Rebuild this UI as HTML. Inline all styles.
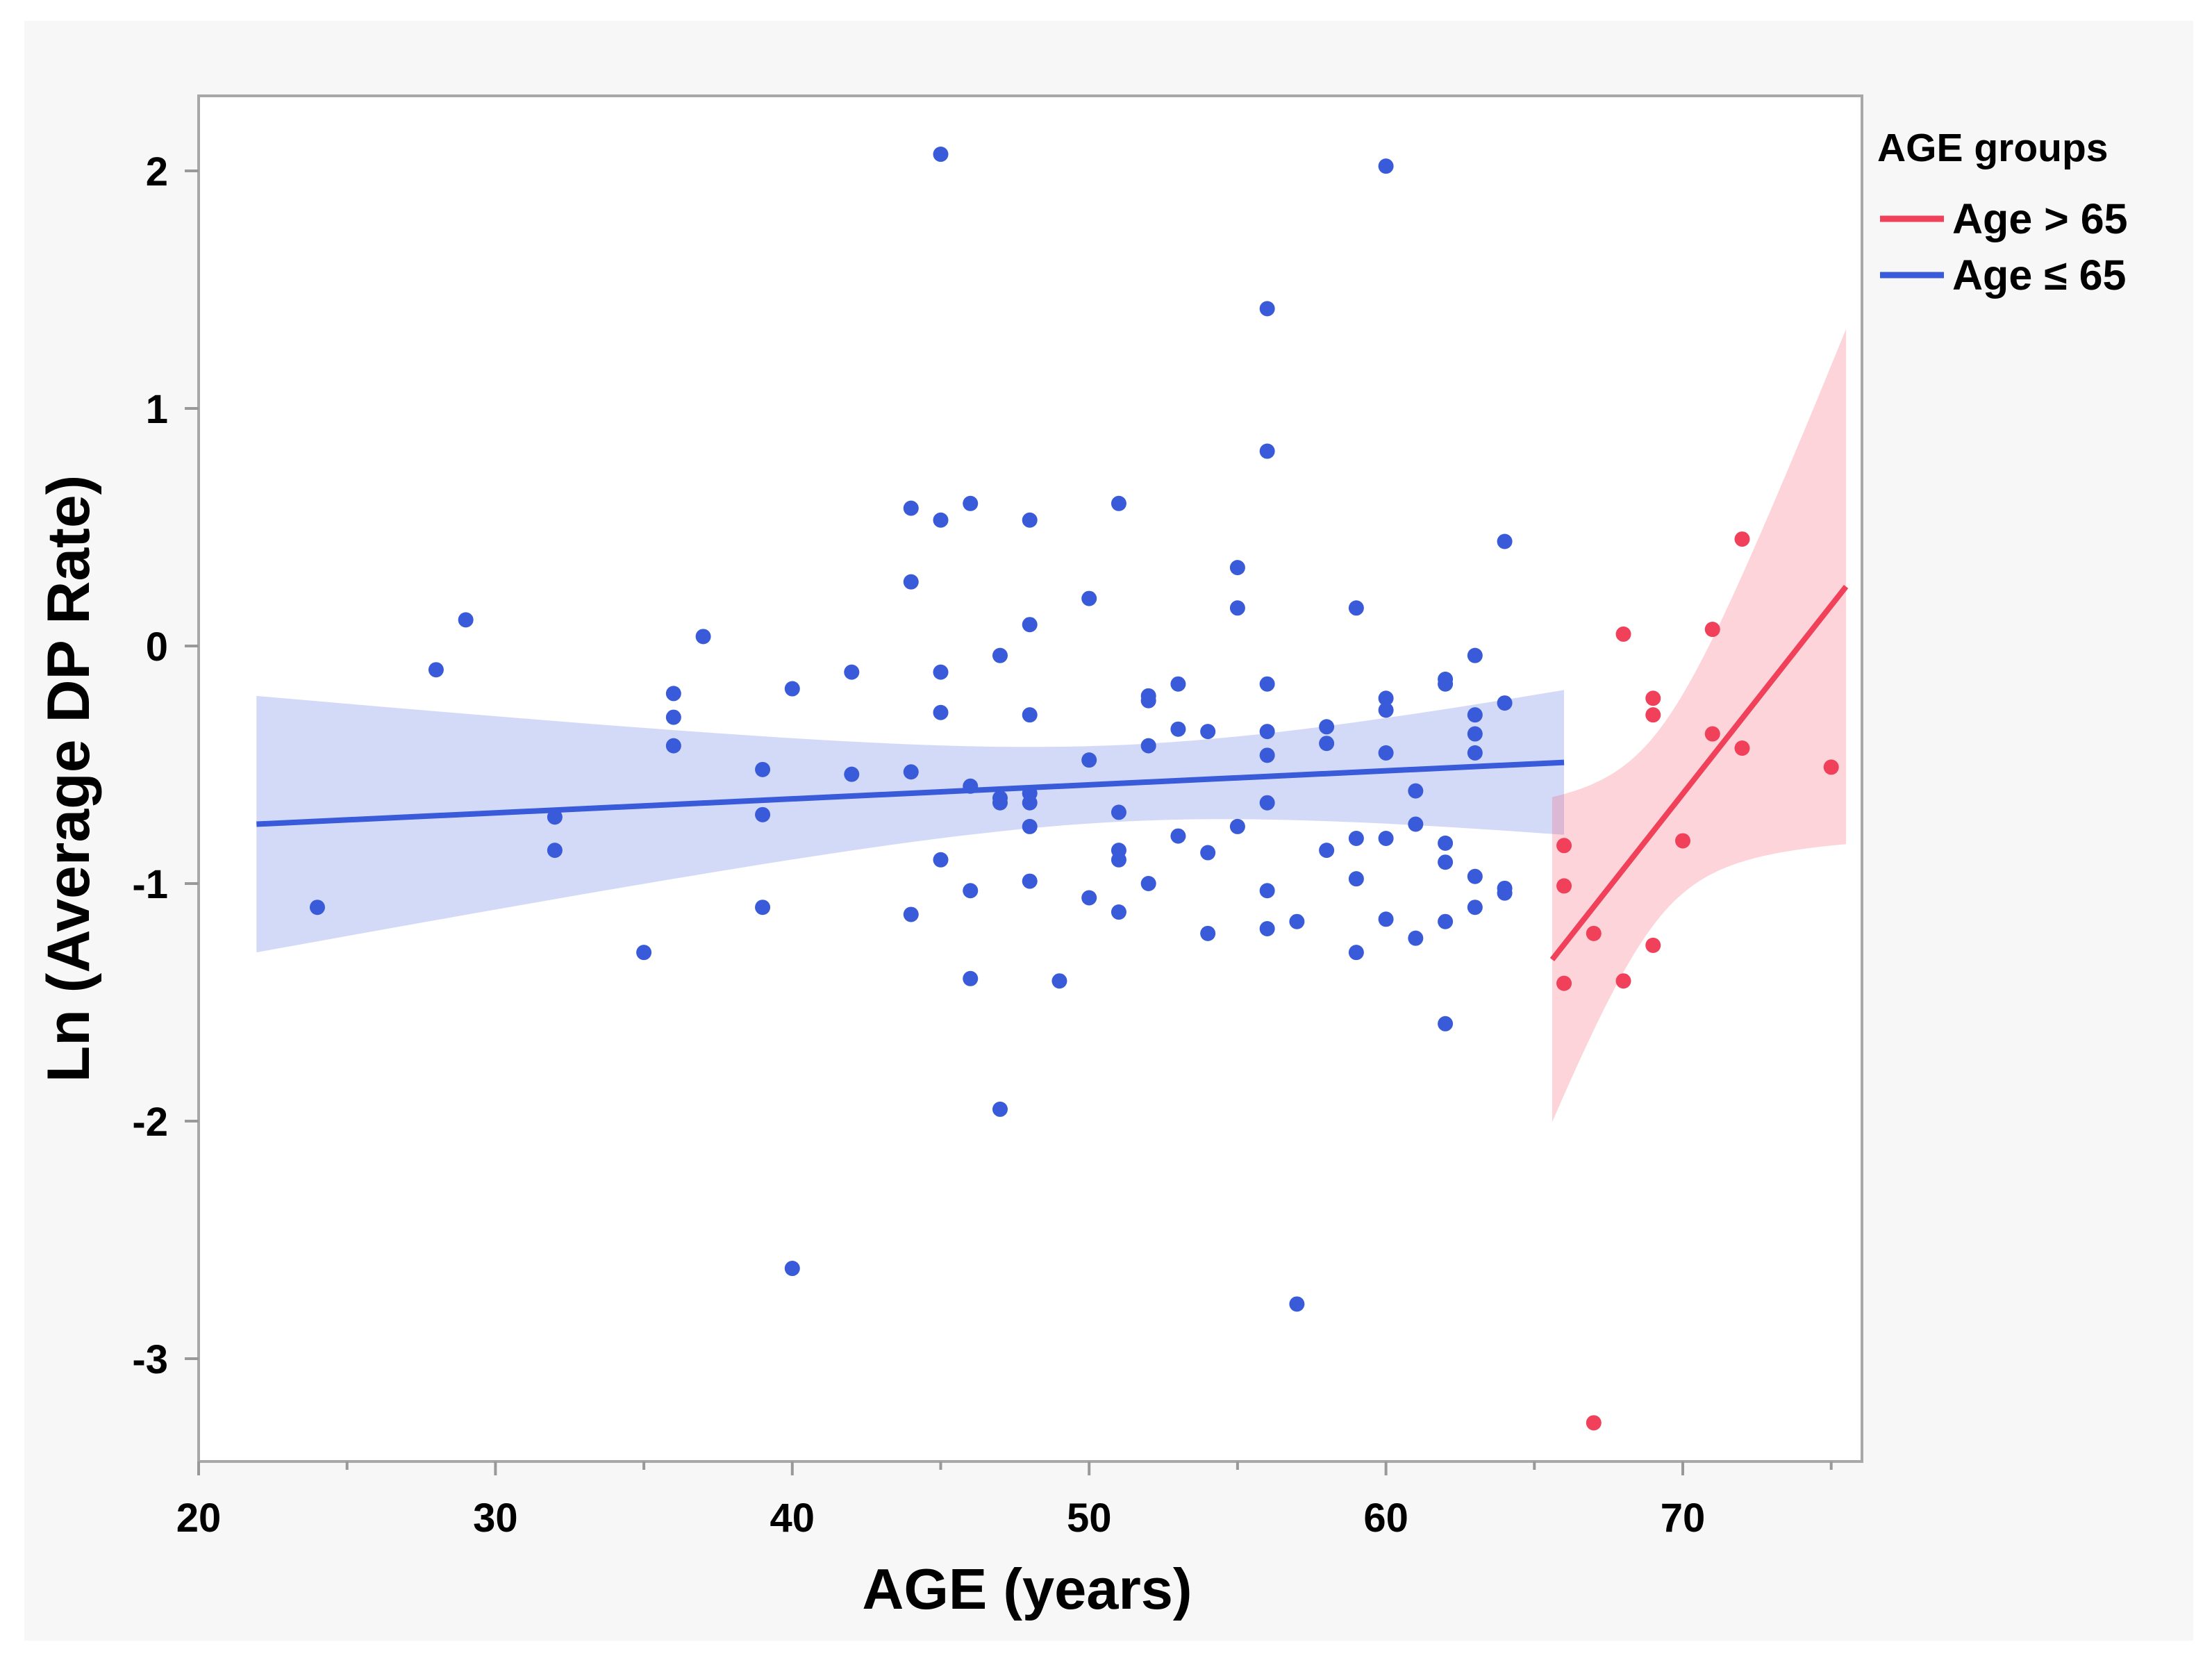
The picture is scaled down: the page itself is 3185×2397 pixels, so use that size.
<!DOCTYPE html>
<html><head><meta charset="utf-8">
<style>
html,body{margin:0;padding:0;background:#fff;}
svg{display:block;}
text{font-family:"Liberation Sans",sans-serif;font-weight:bold;fill:#000;}
</style></head>
<body>
<svg id="chart" width="3185" height="2397" viewBox="0 0 3185 2397" xmlns="http://www.w3.org/2000/svg">
<rect x="35" y="30" width="3123" height="2332" fill="#f7f7f7"/>
<rect x="286" y="138" width="2395" height="1966" fill="#ffffff" stroke="#a8a8a8" stroke-width="4"/>
<g id="bands"></g>
<g id="lines"></g>
<g id="points"></g>
<g id="axes"></g>
<text x="1479" y="2316" font-size="83" text-anchor="middle">AGE (years)</text>
<text transform="translate(128,1121) rotate(-90)" font-size="86" text-anchor="middle">Ln (Average DP Rate)</text>
<g>
<text x="2703" y="232" font-size="57">AGE groups</text>
<g>
<line x1="2707" y1="315" x2="2799" y2="315" stroke="#f0405a" stroke-width="9"/>
<text x="2811" y="336" font-size="61">Age &gt; 65</text>
</g>
<g>
<line x1="2707" y1="396" x2="2799" y2="396" stroke="#3a5bd9" stroke-width="9"/>
<text x="2811" y="417" font-size="61">Age ≤ 65</text>
</g>
</g>
</svg>
<script>
const blueAges=[24,28,29,32,32,35,36,36,36,37,39,39,39,40,40,42,42,44,44,44,44,45,45,45,45,45,46,46,46,46,47,47,47,47,48,48,48,48,48,48,48,49,50,50,50,51,51,51,51,51,52,52,52,52,53,53,53,54,54,54,55,55,55,56,56,56,56,56,56,56,56,57,57,58,58,58,59,59,59,59,60,60,60,60,60,60,61,61,61,62,62,62,62,62,62,63,63,63,63,63,63,64,64,64,64];
const blueVals=[-1.10,-0.10,0.11,-0.72,-0.86,-1.29,-0.20,-0.30,-0.42,0.04,-0.52,-0.71,-1.10,-0.18,-2.62,-0.11,-0.54,0.58,0.27,-0.53,-1.13,2.07,0.53,-0.11,-0.28,-0.90,0.60,-0.59,-1.03,-1.40,-0.04,-0.64,-0.66,-1.95,0.53,0.09,-0.29,-0.62,-0.66,-0.76,-0.99,-1.41,0.20,-0.48,-1.06,0.60,-0.70,-0.86,-0.90,-1.12,-0.21,-0.23,-0.42,-1.00,-0.16,-0.35,-0.80,-0.36,-0.87,-1.21,0.33,0.16,-0.76,1.42,0.82,-0.16,-0.36,-0.46,-0.66,-1.03,-1.19,-2.77,-1.16,-0.34,-0.41,-0.86,0.16,-0.81,-0.98,-1.29,2.02,-0.22,-0.27,-0.45,-0.81,-1.15,-0.61,-0.75,-1.23,-0.14,-0.16,-0.83,-0.91,-1.16,-1.59,-0.04,-0.29,-0.37,-0.45,-0.97,-1.10,0.44,-0.24,-1.02,-1.04];
const redAges=[66,66,66,67,67,68,68,69,69,69,70,71,71,72,72,75];
const redVals=[-0.84,-1.01,-1.42,-1.21,-3.27,0.05,-1.41,-0.22,-0.29,-1.26,-0.82,0.07,-0.37,0.45,-0.43,-0.51];
const xTicks=[20,30,40,50,60,70];
const xMinorTicks=[25,35,45,55,65,75];
const yTicks=[2,1,0,-1,-2,-3];
const blueRange=[21.95,66];
const redRange=[65.6,75.5];
const blueFit=[-0.75,-0.49];
const redFit=[-1.32,0.25];

const NS="http://www.w3.org/2000/svg";
const X0=286,XS=42.74, Y0=930, YS=342;
function sx(v){return X0+(v-20)*XS;}
function sy(v){return Y0-v*YS;}
function mk(tag,attrs,parent){const e=document.createElementNS(NS,tag);for(const k in attrs)e.setAttribute(k,attrs[k]);parent.appendChild(e);return e;}

const axes=document.getElementById('axes');
xTicks.forEach(t=>{
  const l=mk('line',{x1:sx(t),x2:sx(t),y1:2104,y2:2124,stroke:'#999','stroke-width':4},axes);
  
  
  const tx=mk('text',{x:sx(t),y:2205,'font-size':58,'text-anchor':'middle'},axes);
  tx.textContent=t;
  
  
});
xMinorTicks.forEach(t=>{
  const l=mk('line',{x1:sx(t),x2:sx(t),y1:2104,y2:2116,stroke:'#999','stroke-width':4},axes);
  
  
});
yTicks.forEach(t=>{
  const l=mk('line',{x1:266,x2:286,y1:sy(t),y2:sy(t),stroke:'#999','stroke-width':4},axes);
  
  
  const tx=mk('text',{x:242,y:sy(t)+21,'font-size':58,'text-anchor':'end'},axes);
  tx.textContent=t;
  
  
});

function stats(xs,ys,tval){
  const n=xs.length;const mx=xs.reduce((a,b)=>a+b)/n;const my=ys.reduce((a,b)=>a+b)/n;
  let sxx=0,sxy=0;for(let i=0;i<n;i++){sxx+=(xs[i]-mx)**2;sxy+=(xs[i]-mx)*(ys[i]-my);}
  const b=sxy/sxx,a=my-b*mx;let sse=0;for(let i=0;i<n;i++)sse+=(ys[i]-a-b*xs[i])**2;
  const s=Math.sqrt(sse/(n-2));
  return x=>tval*s*Math.sqrt(1/n+(x-mx)**2/sxx);
}
function drawGroup(xs,ys,range,fitv,tval,color,fill,name){
  const ci=stats(xs,ys,tval);
  const f=x=>fitv[0]+(fitv[1]-fitv[0])*(x-range[0])/(range[1]-range[0]);
  const up=[],lo=[];
  for(let i=0;i<=60;i++){const x=range[0]+(range[1]-range[0])*i/60;const y=f(x),c=ci(x);
    up.push(sx(x).toFixed(1)+','+sy(y+c).toFixed(1));lo.unshift(sx(x).toFixed(1)+','+sy(y-c).toFixed(1));}
  const band=mk('polygon',{points:up.concat(lo).join(' '),fill:fill},document.getElementById('bands'));
  
  
  const ln=mk('line',{x1:sx(range[0]),y1:sy(f(range[0])),x2:sx(range[1]),y2:sy(f(range[1])),stroke:color,'stroke-width':8},document.getElementById('lines'));
  
  
  xs.forEach((x,i)=>{
    const c=mk('circle',{cx:sx(x),cy:sy(ys[i]),r:11,fill:color},document.getElementById('points'));
    
    
  });
}
drawGroup(blueAges,blueVals,blueRange,blueFit,2.25,'#3a5bd9','rgba(70,100,225,0.24)','age-under-65');
drawGroup(redAges,redVals,redRange,redFit,2.05,'#f0405a','rgba(245,90,110,0.26)','age-over-65');
</script>
</body></html>
